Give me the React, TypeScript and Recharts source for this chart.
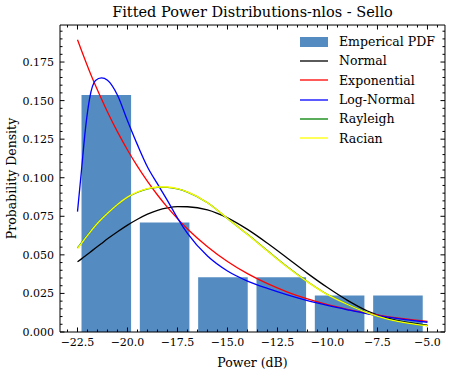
import React from "react"
import { ComposedChart, Bar, Line, XAxis, YAxis, Legend, Label } from "recharts"

// histogram (6 bins between the smallest and largest measured power)
const binEdges = [-22.5, -19.583, -16.667, -13.75, -10.833, -7.917, -5.0]
const pdfHeights = [0.1537, 0.0709, 0.0355, 0.0355, 0.0236, 0.0236]

// fitted curves at these powers
const powerGrid = [
  -22.5, -22.3, -22.1, -21.9, -21.6, -21.3, -21.0, -20.5, -20.0, -19.5, -19.0, -18.5, -18.0, -17.5,
  -17.0, -16.0, -15.0, -14.0, -13.0, -12.0, -11.0, -10.0, -9.0, -8.0, -7.0, -6.0, -5.0,
]
const normalPdf = [
  0.0455, 0.0474, 0.0494, 0.0514, 0.0544, 0.0574, 0.0604, 0.065, 0.0693, 0.0731, 0.0764, 0.0789, 0.0805, 0.0813,
  0.0812, 0.0792, 0.074, 0.0665, 0.0575, 0.0478, 0.038, 0.0288, 0.0205, 0.0136, 0.009, 0.0062, 0.0045,
]
const exponentialPdf = [
  0.1895, 0.1825, 0.1757, 0.1691, 0.1598, 0.151, 0.1426, 0.1297, 0.118, 0.1073, 0.0976, 0.0888, 0.0808, 0.0735,
  0.0668, 0.0553, 0.0457, 0.0378, 0.0313, 0.0259, 0.0214, 0.0177, 0.0147, 0.0121, 0.01, 0.0083, 0.0069,
]
const logNormalPdf = [
  0.078, 0.105, 0.132, 0.151, 0.163, 0.1647, 0.1632, 0.1535, 0.137, 0.1213, 0.107, 0.096, 0.0852, 0.0738,
  0.0639, 0.0492, 0.0395, 0.033, 0.0282, 0.024, 0.0203, 0.0172, 0.0144, 0.0118, 0.0097, 0.0079, 0.0063,
]
const rayleighPdf = [
  0.0545, 0.0579, 0.0613, 0.0646, 0.0692, 0.0734, 0.0771, 0.0827, 0.0873, 0.0906, 0.0928, 0.0938, 0.0938, 0.0928,
  0.0907, 0.0838, 0.0736, 0.0633, 0.0526, 0.0421, 0.0326, 0.0243, 0.0178, 0.0124, 0.0084, 0.0058, 0.0041,
]
const ricianPdf = [
  0.054, 0.0575, 0.061, 0.0643, 0.069, 0.0732, 0.077, 0.0827, 0.0874, 0.0908, 0.093, 0.094, 0.094, 0.093,
  0.0908, 0.0838, 0.0735, 0.0632, 0.0525, 0.042, 0.0325, 0.0242, 0.0178, 0.0124, 0.0084, 0.0058, 0.0041,
]

const xTicks = [-22.5, -20, -17.5, -15, -12.5, -10, -7.5, -5]
const yTicks = [0, 0.025, 0.05, 0.075, 0.1, 0.125, 0.15, 0.175]

const W = 451
const H = 374
const MARGIN = { top: 25, right: 6, bottom: 0, left: 0 }
const Y_AXIS_W = 60
const X_AXIS_H = 42
const X_DOMAIN: [number, number] = [-23.375, -4.125]
const Y_DOMAIN: [number, number] = [0, 0.199]
const FONT = '"DejaVu Serif", "Liberation Serif", serif'
const BAR_COLOR = "#548cc1"
const THIN = 0.01 // frame axes take (almost) no room

// minor ticks (matplotlib AutoMinorLocator style, 5 per major)
const xMinor: number[] = []
for (let v = -23; v <= -4.5 + 1e-9; v += 0.5) {
  if (!xTicks.some(t => Math.abs(t - v) < 1e-6)) xMinor.push(+v.toFixed(2))
}
const yMinor: number[] = []
for (let v = 0; v <= 0.196; v += 0.005) {
  if (!yTicks.some(t => Math.abs(t - v) < 1e-6)) yMinor.push(+v.toFixed(3))
}

const barRows = pdfHeights.map((h, i) => ({ x: (binEdges[i] + binEdges[i + 1]) / 2, pdf: h }))
const curveRows = powerGrid.map((x, i) => ({
  x,
  normal: normalPdf[i],
  exponential: exponentialPdf[i],
  lognormal: logNormalPdf[i],
  rayleigh: rayleighPdf[i],
  rician: ricianPdf[i],
}))

const plotW = W - MARGIN.left - MARGIN.right - Y_AXIS_W
const binW = (binEdges[binEdges.length - 1] - binEdges[0]) / pdfHeights.length
const barSize = (0.85 * binW * plotW) / (X_DOMAIN[1] - X_DOMAIN[0])

const fmtX = (v: number) => (v < 0 ? "\u2212" : "") + Math.abs(v).toFixed(1)
const fmtY = (v: number) => v.toFixed(3)

const curves = [
  { key: "normal", name: "Normal", color: "#000000" },
  { key: "exponential", name: "Exponential", color: "#ff0000" },
  { key: "lognormal", name: "Log-Normal", color: "#0000ff" },
  { key: "rayleigh", name: "Rayleigh", color: "#008000" },
  { key: "rician", name: "Racian", color: "#ffff00" },
]

const LegendBox = () => (
  <div style={{ fontFamily: FONT, fontSize: 12.5, color: "#000" }}>
    <div style={{ display: "flex", alignItems: "center", height: 19.3, whiteSpace: "nowrap" }}>
      <svg width={28} height={10} style={{ marginRight: 11, flex: "none" }}>
        <rect x={0} y={0} width={28} height={10} fill={BAR_COLOR} />
      </svg>
      <span>Emperical PDF</span>
    </div>
    {curves.map(c => (
      <div key={c.key} style={{ display: "flex", alignItems: "center", height: 19.3, whiteSpace: "nowrap" }}>
        <svg width={28} height={10} style={{ marginRight: 11, flex: "none" }}>
          <line x1={0} x2={28} y1={5} y2={5} stroke={c.color} strokeWidth={1.3} />
        </svg>
        <span>{c.name}</span>
      </div>
    ))}
  </div>
)

// a tick label that draws nothing (tick={false} would drop the whole axis)
const NoLabel = () => <g />

// tick-only axes: inward ticks on all four sides (matplotlib box style)
const frameX = [
  { id: "bMaj", orientation: "bottom" as const, ticks: xTicks, size: 4.5, line: false },
  { id: "bMin", orientation: "bottom" as const, ticks: xMinor, size: 2.5, line: false },
  { id: "tMaj", orientation: "top" as const, ticks: xTicks, size: 4.5, line: true },
  { id: "tMin", orientation: "top" as const, ticks: xMinor, size: 2.5, line: false },
]
const frameY = [
  { id: "lMaj", orientation: "left" as const, mirror: true, ticks: yTicks, size: 4.5, line: false },
  { id: "lMin", orientation: "left" as const, mirror: true, ticks: yMinor, size: 2.5, line: false },
  { id: "rMaj", orientation: "right" as const, mirror: false, ticks: yTicks, size: 4.5, line: true },
  { id: "rMin", orientation: "right" as const, mirror: false, ticks: yMinor, size: 2.5, line: false },
]

export default function App() {
  return (
    <div style={{ position: "absolute", left: 0, top: 0, width: W, height: H, background: "#fff" }}>
      <div
        style={{
          position: "absolute",
          left: Y_AXIS_W,
          width: plotW,
          top: 1,
          textAlign: "center",
          fontFamily: FONT,
          fontSize: 14.5,
          lineHeight: "22px",
          color: "#000",
          zIndex: 2,
        }}
      >
        Fitted Power Distributions-nlos - Sello
      </div>
      <ComposedChart width={W} height={H} data={barRows} margin={MARGIN} style={{ fontFamily: FONT }}>
        {frameX.map(a => (
          <XAxis
            key={a.id}
            xAxisId={a.id}
            orientation={a.orientation}
            type="number"
            dataKey="x"
            domain={X_DOMAIN}
            allowDataOverflow
            ticks={a.ticks}
            interval={0}
            tick={NoLabel}
            tickSize={-a.size}
            tickLine={{ stroke: "#000" }}
            axisLine={a.line ? { stroke: "#000" } : false}
            height={THIN}
          />
        ))}
        <XAxis
          xAxisId="bars"
          type="number"
          dataKey="x"
          domain={X_DOMAIN}
          allowDataOverflow
          ticks={xTicks}
          interval={0}
          tickFormatter={fmtX}
          height={X_AXIS_H}
          axisLine={{ stroke: "#000" }}
          tickLine={false}
          tickSize={0}
          tickMargin={6}
          tick={{ fill: "#000", fontSize: 11, fontFamily: FONT }}
        >
          <Label value="Power (dB)" position="insideBottom" offset={7} fill="#000" fontSize={12.5} fontFamily={FONT} />
        </XAxis>
        <XAxis xAxisId="lines" type="number" dataKey="x" domain={X_DOMAIN} allowDataOverflow hide />
        {frameY.map(a => (
          <YAxis
            key={a.id}
            yAxisId={a.id}
            orientation={a.orientation}
            mirror={a.mirror}
            type="number"
            domain={Y_DOMAIN}
            allowDataOverflow
            ticks={a.ticks}
            interval={0}
            tick={NoLabel}
            tickSize={a.mirror ? a.size : -a.size}
            tickLine={{ stroke: "#000" }}
            axisLine={a.line ? { stroke: "#000" } : false}
            width={THIN}
          />
        ))}
        <YAxis
          type="number"
          domain={Y_DOMAIN}
          allowDataOverflow
          ticks={yTicks}
          interval={0}
          tickFormatter={fmtY}
          width={Y_AXIS_W}
          axisLine={{ stroke: "#000" }}
          tickLine={false}
          tickSize={0}
          tickMargin={6}
          tick={{ fill: "#000", fontSize: 11, fontFamily: FONT }}
        >
          <Label
            value="Probability Density"
            angle={-90}
            position="insideLeft"
            offset={12}
            fill="#000"
            fontSize={12.5}
            fontFamily={FONT}
            style={{ textAnchor: "middle" }}
          />
        </YAxis>
        {/* invisible carriers so the frame axes get a scale */}
        {frameX.map(a => (
          <Line key={"cx" + a.id} xAxisId={a.id} data={curveRows} dataKey="normal" stroke="none" dot={false} activeDot={false} legendType="none" isAnimationActive={false} />
        ))}
        {frameY.map(a => (
          <Line key={"cy" + a.id} xAxisId="lines" yAxisId={a.id} data={curveRows} dataKey="normal" stroke="none" dot={false} activeDot={false} legendType="none" isAnimationActive={false} />
        ))}
        <Bar xAxisId="bars" dataKey="pdf" name="Emperical PDF" fill={BAR_COLOR} barSize={barSize} isAnimationActive={false} />
        {curves.map(c => (
          <Line
            key={c.key}
            xAxisId="lines"
            data={curveRows}
            dataKey={c.key}
            name={c.name}
            type="monotone"
            stroke={c.color}
            strokeWidth={1.3}
            dot={false}
            activeDot={false}
            isAnimationActive={false}
          />
        ))}
        <Legend
          content={() => <LegendBox />}
          layout="vertical"
          align="center"
          verticalAlign="middle"
          wrapperStyle={{ left: 300, top: 32, width: 150 }}
        />
      </ComposedChart>
    </div>
  )
}
